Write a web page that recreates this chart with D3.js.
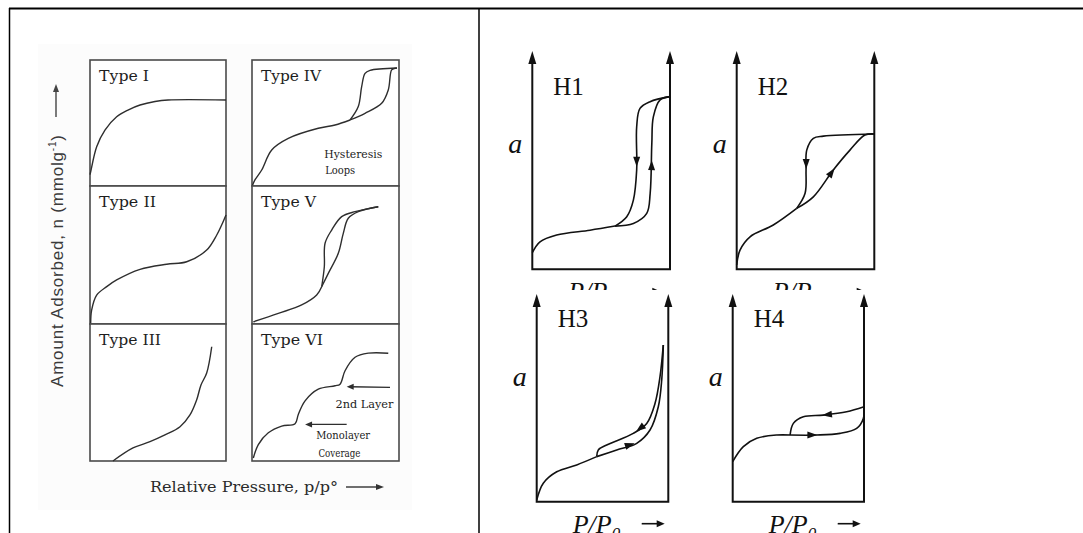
<!DOCTYPE html>
<html>
<head>
<meta charset="utf-8">
<script src="https://cdn.jsdelivr.net/npm/d3@7"></script>
<style>
  body { margin: 0; background: #fff; }
  svg { display: block; }
</style>
</head>
<body>
<div id="chart"></div>
<script>
// ISOTHERM TYPES + HYSTERESIS LOOPS //
// all curves are in box units: x 0..1 left to right, y 0..1 bottom to top

// LEFT FIGURE: isotherm types I..VI
const typeNames = ["Type I", "Type II", "Type III", "Type IV", "Type V", "Type VI"];
const typeLabelWidths = [50, 57, 62, 60, 55, 62];

const typeI = [[0, 0.09], [0.005, 0.113], [0.049, 0.312], [0.110, 0.444], [0.196, 0.550], [0.279, 0.603],
  [0.368, 0.643], [0.478, 0.671], [0.574, 0.683], [1.0, 0.683]];
const typeII = [[0.005, 0.005], [0.012, 0.101], [0.049, 0.210], [0.123, 0.271], [0.196, 0.319], [0.368, 0.396],
  [0.564, 0.433], [0.711, 0.451], [0.858, 0.536], [0.932, 0.645], [0.968, 0.717], [1.0, 0.790]];
const typeIII = [[0.169, 0], [0.316, 0.095], [0.441, 0.141], [0.551, 0.190], [0.662, 0.250], [0.735, 0.336],
  [0.784, 0.445], [0.816, 0.555], [0.858, 0.642], [0.895, 0.834]];
const typeIVLow = [[0.003, 0.004], [0.020, 0.048], [0.066, 0.127], [0.134, 0.286], [0.247, 0.378], [0.451, 0.458],
  [0.565, 0.484], [0.667, 0.524]];
const typeIVAds = [[0.667, 0.524], [0.769, 0.577], [0.882, 0.656], [0.927, 0.762], [0.950, 0.921], [0.973, 0.934], [0.986, 0.937]];
const typeIVDes = [[0.667, 0.524], [0.723, 0.630], [0.746, 0.788], [0.769, 0.894], [0.803, 0.918], [0.986, 0.937]];
const typeVLow = [[0.009, 0.016], [0.179, 0.077], [0.338, 0.138], [0.440, 0.210], [0.474, 0.270]];
const typeVDes = [[0.474, 0.270], [0.492, 0.415], [0.497, 0.585], [0.542, 0.681], [0.610, 0.778], [0.701, 0.814],
  [0.769, 0.831], [0.859, 0.850]];
const typeVAds = [[0.474, 0.270], [0.519, 0.367], [0.587, 0.512], [0.621, 0.657], [0.655, 0.766], [0.723, 0.814], [0.859, 0.850]];
const typeVI = [[0.009, 0.022], [0.043, 0.120], [0.111, 0.206], [0.202, 0.255], [0.293, 0.272], [0.315, 0.340],
  [0.361, 0.439], [0.451, 0.524], [0.565, 0.549], [0.599, 0.561], [0.633, 0.659], [0.701, 0.757], [0.791, 0.787], [0.927, 0.787]];

// panel index -> list of curves
const typeCurves = [[typeI], [typeII], [typeIII], [typeIVLow, typeIVAds, typeIVDes], [typeVLow, typeVDes, typeVAds], [typeVI]];

// notes inside boxes: [panel, text, x, y, width]
const typeNotes = [
  [3, "Hysteresis", 0.689, 0.22, 58],
  [3, "Loops", 0.6, 0.095, 30],
  [5, "2nd Layer", 0.765, 0.39, 58],
  [5, "Monolayer", 0.62, 0.16, 54],
  [5, "Coverage", 0.595, 0.03, 42]
];
// note arrows in Type VI: [from, to]
const typeVIArrows = [[[0.939, 0.537], [0.644, 0.542]], [[0.644, 0.267], [0.361, 0.267]]];

const yLabelLeft = "Amount Adsorbed, n (mmolg";
const xLabelLeft = "Relative Pressure, p/p°";

// RIGHT FIGURE: hysteresis loops H1..H4
const hNames = ["H1", "H2", "H3", "H4"];

const h1Low = [[0, 0.076], [0.056, 0.126], [0.177, 0.157], [0.419, 0.179], [0.601, 0.198]];
const h1Des = [[0.601, 0.198], [0.686, 0.241], [0.734, 0.317], [0.758, 0.455], [0.758, 0.653], [0.782, 0.737], [0.855, 0.768], [1, 0.791]];
const h1Ads = [[0.601, 0.198], [0.734, 0.210], [0.831, 0.256], [0.856, 0.348], [0.868, 0.577], [0.879, 0.698], [0.928, 0.776], [1, 0.791]];

const h2Low = [[0, 0.02], [0.024, 0.088], [0.097, 0.149], [0.266, 0.203], [0.436, 0.279]];
const h2Des = [[0.436, 0.279], [0.497, 0.348], [0.504, 0.455], [0.509, 0.546], [0.557, 0.600], [0.630, 0.610], [1, 0.620]];
const h2Ads = [[0.436, 0.279], [0.557, 0.332], [0.702, 0.455], [0.823, 0.546], [0.932, 0.615], [1, 0.620]];

const h3Low = [[0, 0.008], [0.050, 0.089], [0.152, 0.144], [0.304, 0.177], [0.456, 0.217]];
const h3Ads = [[0.456, 0.217], [0.608, 0.249], [0.760, 0.281], [0.861, 0.345], [0.924, 0.457], [0.950, 0.586], [0.962, 0.754]];
const h3Des = [[0.456, 0.217], [0.468, 0.249], [0.532, 0.273], [0.734, 0.329], [0.836, 0.377], [0.899, 0.473], [0.937, 0.602], [0.962, 0.754]];

const h4Low = [[0, 0.193], [0.081, 0.265], [0.183, 0.305], [0.335, 0.321], [0.437, 0.321]];
const h4Ads = [[0.437, 0.321], [0.640, 0.321], [0.817, 0.329], [0.944, 0.353], [0.995, 0.401], [1, 0.457]];
const h4Des = [[0.437, 0.321], [0.462, 0.377], [0.538, 0.409], [0.690, 0.417], [0.868, 0.433], [1, 0.457]];

const hCurves = [[h1Low, h1Des, h1Ads], [h2Low, h2Des, h2Ads], [h3Low, h3Ads, h3Des], [h4Low, h4Ads, h4Des]];

// direction arrows on loops: [from, to]
const hArrows = [
  [[[0.758, 0.52], [0.758, 0.47]], [[0.866, 0.45], [0.867, 0.50]]],
  [[[0.505, 0.50], [0.505, 0.46]], [[0.68, 0.435], [0.712, 0.463]]],
  [[[0.80, 0.36], [0.755, 0.338]], [[0.70, 0.272], [0.745, 0.281]]],
  [[[0.72, 0.419], [0.68, 0.416]], [[0.60, 0.321], [0.645, 0.321]]]
];

// set the dimensions
const W = 1083, H = 533;

const svg = d3.select("#chart").append("svg")
  .attr("width", W).attr("height", H);

// table frame
svg.append("line").attr("x1", 9).attr("x2", W).attr("y1", 8.5).attr("y2", 8.5)
  .attr("stroke", "#000").attr("stroke-width", 2);
svg.append("line").attr("x1", 9.5).attr("x2", 9.5).attr("y1", 8).attr("y2", H)
  .attr("stroke", "#000").attr("stroke-width", 1.5);
svg.append("line").attr("x1", 479).attr("x2", 479).attr("y1", 8).attr("y2", H)
  .attr("stroke", "#000").attr("stroke-width", 1.5);

// ---------- LEFT FIGURE ----------
const left = svg.append("g");
left.append("rect").attr("x", 38).attr("y", 44).attr("width", 374).attr("height", 466).attr("fill", "#fcfcfc");

const colX = [[90, 226], [252, 399]];
const rowY = [60, 186, 324, 461];
const inkL = "#2e2e2e";

const lineL = d3.line().curve(d3.curveCatmullRom.alpha(0.5));

typeNames.forEach(function (name, i) {
  const col = Math.floor(i / 3), row = i % 3;
  const x = d3.scaleLinear().domain([0, 1]).range(colX[col]);
  const y = d3.scaleLinear().domain([0, 1]).range([rowY[row + 1], rowY[row]]);
  const g = left.append("g");

  g.append("rect")
    .attr("x", x(0)).attr("y", y(1))
    .attr("width", x(1) - x(0)).attr("height", y(0) - y(1))
    .attr("fill", "#fff").attr("stroke", "#4a4a4a").attr("stroke-width", 1.6);

  g.append("text")
    .attr("x", x(0) + 9).attr("y", y(1) + 21)
    .attr("font-family", "DejaVu Serif").attr("font-size", 14)
    .attr("fill", "#1e1e1e")
    .attr("textLength", typeLabelWidths[i]).attr("lengthAdjust", "spacingAndGlyphs")
    .text(name);

  typeCurves[i].forEach(function (c) {
    g.append("path")
      .attr("d", lineL.x(d => x(d[0])).y(d => y(d[1]))(c))
      .attr("fill", "none").attr("stroke", inkL).attr("stroke-width", 1.4);
  });

  typeNotes.filter(n => n[0] === i).forEach(function (n) {
    g.append("text")
      .attr("x", x(n[2])).attr("y", y(n[3]))
      .attr("text-anchor", "middle")
      .attr("font-family", "DejaVu Serif").attr("font-size", 11)
      .attr("fill", "#222")
      .attr("textLength", n[4]).attr("lengthAdjust", "spacingAndGlyphs")
      .text(n[1]);
  });

  if (i === 5) {
    typeVIArrows.forEach(function (a) {
      const x1 = x(a[0][0]), y1 = y(a[0][1]), x2 = x(a[1][0]), y2 = y(a[1][1]);
      g.append("line").attr("x1", x1).attr("y1", y1).attr("x2", x2 + 4).attr("y2", y2)
        .attr("stroke", inkL).attr("stroke-width", 1.3);
      g.append("path")
        .attr("d", `M${x2},${y2} L${x2 + 7},${y2 - 3} L${x2 + 7},${y2 + 3} Z`)
        .attr("fill", inkL);
    });
  }
});

// y label, rotated
const yl = left.append("text")
  .attr("transform", "translate(63,261) rotate(-90)")
  .attr("text-anchor", "middle")
  .attr("font-family", "Liberation Sans, Arial, sans-serif").attr("font-size", 17)
  .attr("fill", "#3a3a3a")
  .attr("textLength", 252).attr("lengthAdjust", "spacing");
yl.append("tspan").text(yLabelLeft);
yl.append("tspan").attr("font-size", 10).attr("dy", -7).text("-1");
yl.append("tspan").attr("dy", 7).text(")");

left.append("line").attr("x1", 56).attr("x2", 56).attr("y1", 117).attr("y2", 90)
  .attr("stroke", "#444").attr("stroke-width", 1.4);
left.append("path").attr("d", "M56,84 L53,92 L59,92 Z").attr("fill", "#444");

// x label
left.append("text")
  .attr("x", 150).attr("y", 492)
  .attr("font-family", "DejaVu Serif").attr("font-size", 14)
  .attr("fill", "#2a2a2a")
  .attr("textLength", 188).attr("lengthAdjust", "spacingAndGlyphs")
  .text(xLabelLeft);
left.append("line").attr("x1", 346).attr("x2", 378).attr("y1", 487).attr("y2", 487)
  .attr("stroke", "#333").attr("stroke-width", 1.4);
left.append("path").attr("d", "M384,487 L376,484 L376,490 Z").attr("fill", "#333");

// ---------- RIGHT FIGURE ----------
const right = svg.append("g");
// box: left axis x, right axis x, bottom y, arrow tip y
const hBoxes = [
  [532.3, 670, 269.3, 51],
  [736.7, 874.3, 269.3, 51],
  [536.7, 668.3, 501.7, 294],
  [732.7, 864, 501.7, 294]
];
const ink = "#111";
const lineR = d3.line().curve(d3.curveCatmullRom.alpha(0.5));

// clip so the upper P/P0 labels get cut by the lower figure, as in the picture
svg.append("defs").append("clipPath").attr("id", "upperClip")
  .append("rect").attr("x", 480).attr("y", 0).attr("width", 603).attr("height", 290);

function pLabel(g, x0, yBase) {
  const t = g.append("text")
    .attr("x", x0).attr("y", yBase)
    .attr("font-family", "Liberation Serif, Times New Roman, serif").attr("font-size", 26)
    .attr("font-style", "italic").attr("fill", ink);
  t.append("tspan").text("P/P");
  t.append("tspan").attr("font-size", 17).attr("dy", 6).text("0");
  g.append("line").attr("x1", x0 + 69).attr("x2", x0 + 86).attr("y1", yBase - 9).attr("y2", yBase - 9)
    .attr("stroke", ink).attr("stroke-width", 1.6);
  g.append("path").attr("d", `M${x0 + 92},${yBase - 9} L${x0 + 84},${yBase - 12.5} L${x0 + 84},${yBase - 5.5} Z`).attr("fill", ink);
}

hNames.forEach(function (name, i) {
  const b = hBoxes[i];
  const x = d3.scaleLinear().domain([0, 1]).range([b[0], b[1]]);
  const y = d3.scaleLinear().domain([0, 1]).range([b[2], b[3]]);
  const g = right.append("g");

  // axes: two vertical arrows joined at the bottom
  g.append("path")
    .attr("d", `M${x(0)},${y(1) + 10} L${x(0)},${y(0)} L${x(1)},${y(0)} L${x(1)},${y(1) + 10}`)
    .attr("fill", "none").attr("stroke", ink).attr("stroke-width", 2);
  [0, 1].forEach(function (s) {
    g.append("path")
      .attr("d", `M${x(s)},${y(1)} L${x(s) - 4},${y(1) + 13} L${x(s) + 4},${y(1) + 13} Z`)
      .attr("fill", ink);
  });

  g.append("text")
    .attr("x", x(0) + 21).attr("y", y(0) - 174.5)
    .attr("font-family", "Liberation Serif, Times New Roman, serif").attr("font-size", 25)
    .attr("fill", ink).text(name);

  g.append("text")
    .attr("x", x(0) - 24).attr("y", y(0) - 116)
    .attr("font-family", "Liberation Serif, Times New Roman, serif").attr("font-size", 28)
    .attr("font-style", "italic").attr("fill", ink).text("a");

  hCurves[i].forEach(function (c) {
    g.append("path")
      .attr("d", lineR.x(d => x(d[0])).y(d => y(d[1]))(c))
      .attr("fill", "none").attr("stroke", ink).attr("stroke-width", 1.6);
  });

  hArrows[i].forEach(function (a) {
    const x1 = x(a[0][0]), y1 = y(a[0][1]), x2 = x(a[1][0]), y2 = y(a[1][1]);
    const ang = Math.atan2(y2 - y1, x2 - x1) * 180 / Math.PI;
    g.append("path")
      .attr("d", "M0,0 L-10,-3.5 L-10,3.5 Z")
      .attr("transform", `translate(${x2},${y2}) rotate(${ang})`)
      .attr("fill", ink);
  });

  const lg = i < 2 ? g.append("g").attr("clip-path", "url(#upperClip)") : g;
  pLabel(lg, x(0) + 36, y(0) + 31);
});
</script>
</body>
</html>
